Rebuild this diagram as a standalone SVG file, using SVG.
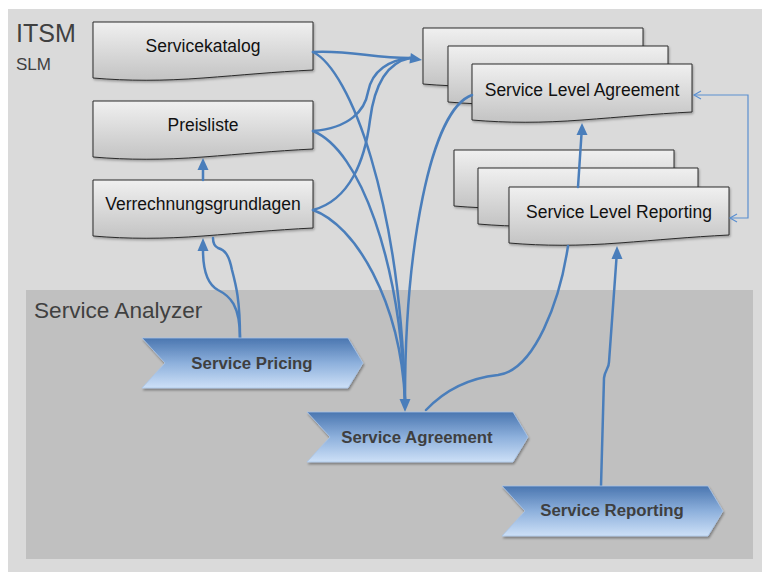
<svg xmlns="http://www.w3.org/2000/svg" xmlns:xlink="http://www.w3.org/1999/xlink" width="762" height="572" viewBox="0 0 762 572">
  <style>
    .title { font-family: "Liberation Sans", Arial, sans-serif; fill: #404040; }
    .doc-label { font-family: "Liberation Sans", Arial, sans-serif; font-size: 17.5px; fill: #111; text-anchor: middle; }
    .step-label { font-family: "Liberation Sans", Arial, sans-serif; font-size: 16.8px; font-weight: bold; fill: #3f3f3f; text-anchor: middle; }
    .doc { fill: url(#docGrad); stroke: #2a2a2a; stroke-width: 1; filter: url(#docShadow); }
    .step { fill: url(#stepGrad); stroke: #a9c4e6; stroke-width: 0.8; filter: url(#stepShadow); }
    .flow { fill: none; stroke: #4a7ebb; stroke-width: 2.5; stroke-linecap: round; }
    .head { fill: #4a7ebb; }
    .sync { fill: none; stroke: #5b8fd0; stroke-width: 1.2; }
  </style>
  <defs>
    <linearGradient id="docGrad" x1="0" y1="0" x2="0" y2="1">
      <stop offset="0" stop-color="#f0f0f0"/>
      <stop offset="1" stop-color="#c3c3c3"/>
    </linearGradient>
    <linearGradient id="stepGrad" x1="0" y1="0" x2="0" y2="1">
      <stop offset="0" stop-color="#4a76b0"/>
      <stop offset="0.5" stop-color="#8db0dc"/>
      <stop offset="1" stop-color="#cde0f7"/>
    </linearGradient>
    <filter id="docShadow" x="-5%" y="-10%" width="115%" height="130%">
      <feDropShadow dx="1" dy="1.5" stdDeviation="1" flood-color="#000" flood-opacity="0.3"/>
    </filter>
    <filter id="stepShadow" x="-5%" y="-10%" width="115%" height="135%">
      <feDropShadow dx="1" dy="2" stdDeviation="1.2" flood-color="#000" flood-opacity="0.35"/>
    </filter>
    <!-- document shape with wavy bottom edge, 220 wide -->
    <path id="docShape" d="M0,0 H220 V48 C180,50 150,53 110,56 C70,59 35,59 0,56 Z"/>
    <!-- chevron step shape -->
    <path id="stepShape" d="M0,0 H206 L221,25 L206,50 H0 L23,25 Z"/>
  </defs>

  <!-- backgrounds -->
  <rect x="8" y="9" width="754" height="563" fill="#dadada"/>
  <rect x="26" y="290" width="727" height="269" fill="#c0c0c0"/>
  <text class="title" x="16" y="42" font-size="25">ITSM</text>
  <text class="title" x="16" y="70" font-size="17">SLM</text>
  <text class="title" x="34" y="318" font-size="22.6">Service Analyzer</text>

  <!-- left documents -->
  <g id="servicekatalog">
    <use href="#docShape" class="doc" x="93" y="22"/>
    <text class="doc-label" x="203" y="52">Servicekatalog</text>
  </g>
  <g id="preisliste">
    <use href="#docShape" class="doc" x="93" y="101"/>
    <text class="doc-label" x="203" y="131">Preisliste</text>
  </g>
  <g id="verrechnungsgrundlagen">
    <use href="#docShape" class="doc" x="93" y="180"/>
    <text class="doc-label" x="203" y="210">Verrechnungsgrundlagen</text>
  </g>

  <!-- SLA stack -->
  <g id="service-level-agreement">
    <use href="#docShape" class="doc" x="423" y="28"/>
    <use href="#docShape" class="doc" x="448" y="46"/>
    <use href="#docShape" class="doc" x="472" y="64"/>
    <text class="doc-label" x="582" y="96">Service Level Agreement</text>
  </g>

  <!-- SLR stack -->
  <g id="service-level-reporting">
    <use href="#docShape" class="doc" x="454" y="150"/>
    <use href="#docShape" class="doc" x="478" y="168"/>
    <use href="#docShape" class="doc" x="509" y="187"/>
    <text class="doc-label" x="619" y="218">Service Level Reporting</text>
  </g>

  <!-- connectors -->
  <g id="connectors">
    <!-- into SLA stack -->
    <path class="flow" d="M313,52 C350,50 372,58 410,58"/>
    <path class="flow" d="M313,131 C350,128 365,110 368,92 C372,70 390,60 410,58"/>
    <path class="flow" d="M313,210 C350,200 365,160 370,120 C375,80 390,62 410,58"/>
    <polygon class="head" points="422,60 410.9,53 409.4,63.5"/>
    <!-- into Service Agreement -->
    <path class="flow" d="M313,52 C350,70 400,200 405,400"/>
    <path class="flow" d="M313,131 C360,150 400,260 405,400"/>
    <path class="flow" d="M313,210 C355,225 400,300 405,400"/>
    <path class="flow" d="M472,95 C430,110 405,250 405,400"/>
    <polygon class="head" points="405,412 399.5,399 410.5,399"/>
    <!-- Service Agreement to SLR -->
    <path class="flow" d="M426,410 C445,390 470,378 498,375 C535,370 560,300 568,246"/>
    <!-- Service Reporting to SLR -->
    <path class="flow" d="M601,486 L604,378 C605,370 609,368 609,362 L616.5,258"/>
    <polygon class="head" points="617,246 611.5,259 622.5,259"/>
    <!-- SLR to SLA -->
    <path class="flow" d="M578,187 L581.5,134"/>
    <polygon class="head" points="582,123 576.5,135 587.5,135"/>
    <!-- Verrechnungsgrundlagen to Preisliste -->
    <path class="flow" d="M203,180 L203,169"/>
    <polygon class="head" points="203,158 197.5,170 208.5,170"/>
    <!-- Service Pricing to Verrechnungsgrundlagen -->
    <path class="flow" d="M240,338 C240,305 230,296 218,290 C205,283 203,265 203,250"/>
    <polygon class="head" points="203,238 197.5,251 208.5,251"/>
    <path class="flow" d="M240,338 C240,300 236,285 232,270 C229,255 225,250 218,248 C214,246 213,242 213,238"/>
    <!-- SLA / SLR link -->
    <path class="sync" d="M694,95 H748 V218 H730"/>
    <path class="sync" d="M701,91 L694,95 L701,99"/>
    <path class="sync" d="M737,214 L730,218 L737,222"/>
  </g>

  <!-- process steps -->
  <g id="service-pricing">
    <use href="#stepShape" class="step" x="142" y="338"/>
    <text class="step-label" x="252" y="369">Service Pricing</text>
  </g>
  <g id="service-agreement">
    <use href="#stepShape" class="step" x="307" y="412"/>
    <text class="step-label" x="417" y="443">Service Agreement</text>
  </g>
  <g id="service-reporting">
    <use href="#stepShape" class="step" x="502" y="486"/>
    <text class="step-label" x="612" y="516">Service Reporting</text>
  </g>
</svg>
